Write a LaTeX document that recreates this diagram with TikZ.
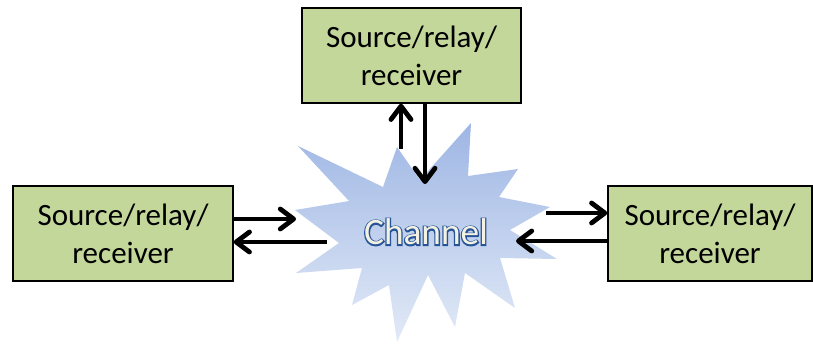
\documentclass[tikz,border=0pt]{standalone}
\usepackage{fontspec}
\setmainfont{Carlito}
\newfontfamily\chbold[FakeBold=7]{Carlito}
\usetikzlibrary{arrows.meta}
\definecolor{boxgreen}{RGB}{196,215,155}
\definecolor{startop}{RGB}{158,182,228}
\definecolor{starbot}{RGB}{226,234,247}
\definecolor{chedge}{RGB}{38,84,150}
\definecolor{chfill}{RGB}{243,241,226}
\newcommand{\outlinedtext}[1]{%
  \rlap{\chbold\color{chedge}#1}%
  {\color{chfill}#1}}
\tikzset{
  boxnode/.style={draw, line width=1.1pt, fill=boxgreen, minimum height=71.25pt,
    align=center, inner sep=0pt,
    font=\fontsize{23.25}{28.5}\selectfont},
  arr/.style={line width=3.6pt, -{Straight Barb[length=10pt,width=15pt,round]}}
}
\begin{document}
\begin{tikzpicture}[x=0.75pt,y=-0.75pt]
\useasboundingbox (0,0) rectangle (813,343);
% star (channel)
\path[top color=startop, bottom color=starbot]
  (298,146) -- (383,187) -- (397,147) -- (420,180) -- (471,123) -- (468,176)
  -- (518,169) -- (499,197) -- (550,207) -- (510,230) -- (557,259) -- (500,258)
  -- (515,308) -- (465,273) -- (455,327) -- (428,275) -- (397,342) -- (389,285)
  -- (352,305) -- (362,268) -- (296,273) -- (339,243) -- (295,210) -- (349,201)
  -- cycle;
\node[font=\fontsize{28}{32}\selectfont] (ch) at (426,232) {\outlinedtext{Channel}};
% boxes
\node[boxnode, minimum width=164.25pt] (top) at (411.5,55.5) {Source/relay/\\receiver};
\node[boxnode, minimum width=165pt] (left) at (123,233.5) {Source/relay/\\receiver};
\begin{scope}
\clip (0,0) rectangle (813,343);
\node[boxnode, minimum width=153pt] (right) at (710,233.5) {Source/relay/\\receiver};
\end{scope}
% free ends
\coordinate (tu) at (401,149);
\coordinate (td) at (425,184);
\coordinate (lr) at (296,219);
\coordinate (ll) at (327,242);
\coordinate (rr) at (546,213);
\coordinate (rl) at (516,241);
% arrows
\draw[arr] (tu) -- (tu |- top.south);
\draw[arr] (td |- top.south) -- (td);
\draw[arr] (left.east |- lr) -- (lr);
\draw[arr] (ll) -- (left.east |- ll);
\draw[arr] (rr) -- (right.west |- rr);
\draw[arr] (right.west |- rl) -- (rl);
\end{tikzpicture}
\end{document}
